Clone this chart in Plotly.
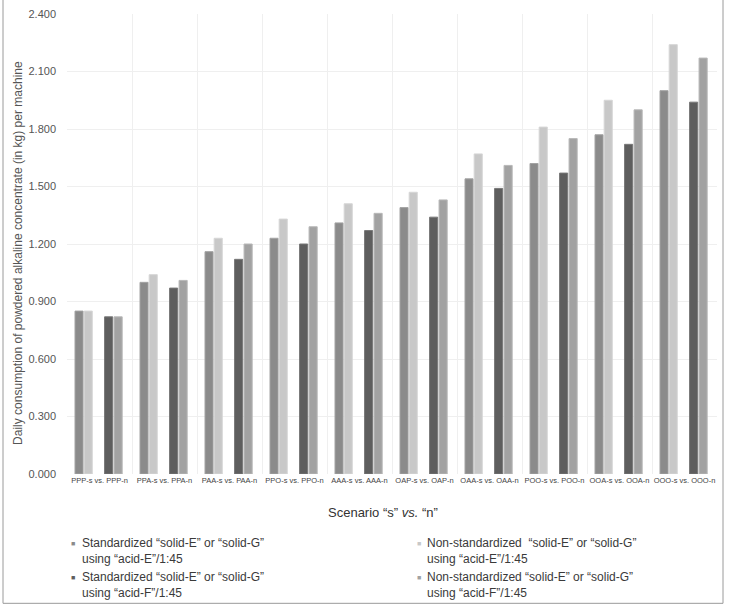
import plotly.graph_objects as go

categories = ["PPP-s vs. PPP-n", "PPA-s vs. PPA-n", "PAA-s vs. PAA-n", "PPO-s vs. PPO-n",
              "AAA-s vs. AAA-n", "OAP-s vs. OAP-n", "OAA-s vs. OAA-n", "POO-s vs. POO-n",
              "OOA-s vs. OOA-n", "OOO-s vs. OOO-n"]

std_acidE = [0.85, 1.00, 1.16, 1.23, 1.31, 1.39, 1.54, 1.62, 1.77, 2.00]
nonstd_acidE = [0.85, 1.04, 1.23, 1.33, 1.41, 1.47, 1.67, 1.81, 1.95, 2.24]
std_acidF = [0.82, 0.97, 1.12, 1.20, 1.27, 1.34, 1.49, 1.57, 1.72, 1.94]
nonstd_acidF = [0.82, 1.01, 1.20, 1.29, 1.36, 1.43, 1.61, 1.75, 1.90, 2.17]

series_names = [
    ["Standardized \u201csolid-E\u201d or \u201csolid-G\u201d", "using \u201cacid-E\u201d/1:45"],
    ["Non-standardized  \u201csolid-E\u201d or \u201csolid-G\u201d", "using \u201cacid-E\u201d/1:45"],
    ["Standardized \u201csolid-E\u201d or \u201csolid-G\u201d", "using \u201cacid-F\u201d/1:45"],
    ["Non-standardized \u201csolid-E\u201d or \u201csolid-G\u201d", "using \u201cacid-F\u201d/1:45"],
]
y_ticks = [0.0, 0.3, 0.6, 0.9, 1.2, 1.5, 1.8, 2.1, 2.4]

W, H = 740, 610
ML, MR, MT, MB = 67, 23, 8, 136
PW, PH = W - ML - MR, H - MT - MB


def px(x):
    return (x - ML) / PW


def py(y):
    return (H - MB - y) / PH


fills = ["#8b8b8b", "#c8c8c8", "#5e5e5e", "#a2a2a2"]
edges = ["#a3a3a3", "#d6d6d6", "#777777", "#b8b8b8"]
offsets = [-0.377, -0.236, 0.078, 0.224]
bar_w = 0.125
all_series = [std_acidE, nonstd_acidE, std_acidF, nonstd_acidF]

fig = go.Figure()
for vals, name, fc, ec, off in zip(all_series, series_names, fills, edges, offsets):
    fig.add_trace(go.Bar(
        x=categories, y=vals, name=" ".join(name),
        marker=dict(color=fc, line=dict(color=ec, width=1)),
        offset=off, width=bar_w, showlegend=False,
    ))

font = "Liberation Sans, Arial, sans-serif"

annotations = []
# y-axis title
annotations.append(dict(
    text="Daily consumption of powdered alkaline concentrate (in kg) per machine",
    x=px(18), y=py(250), xref="paper", yref="paper", textangle=-90,
    showarrow=False, xanchor="center", yanchor="middle",
    font=dict(family=font, size=12, color="#555555")))
# x-axis title
annotations.append(dict(
    text="Scenario \u201cs\u201d <i>vs.</i> \u201cn\u201d",
    x=px(383), y=py(513), xref="paper", yref="paper", showarrow=False,
    xanchor="center", yanchor="middle",
    font=dict(family=font, size=13, color="#333333")))

# legend built from text: (square x, text x, entry centre y)
leg_pos = [(73, 80, 552), (419, 425, 552), (73, 80, 586), (419, 425, 586)]
for (sqx, tx, cy), name, fc in zip(leg_pos, series_names, fills):
    annotations.append(dict(
        text="\u25a0", x=px(sqx), y=py(cy - 7.5), xref="paper", yref="paper",
        showarrow=False, xanchor="center", yanchor="middle",
        font=dict(family=font, size=7, color=fc)))
    annotations.append(dict(
        text="<br>".join(name), x=px(tx), y=py(cy), xref="paper", yref="paper",
        showarrow=False, xanchor="left", yanchor="middle", align="left",
        font=dict(family=font, size=12, color="#3a3a3a")))

fig.update_layout(
    width=W, height=H,
    margin=dict(l=ML, r=MR, t=MT, b=MB),
    plot_bgcolor="white", paper_bgcolor="white",
    barmode="overlay", showlegend=False,
    annotations=annotations,
    shapes=[dict(type="rect", xref="paper", yref="paper",
                 x0=px(3), x1=px(723), y0=py(605), y1=py(-20),
                 line=dict(color="#9a9a9a", width=1), fillcolor="rgba(0,0,0,0)")],
    xaxis=dict(type="category", tickson="boundaries", showgrid=True,
               gridcolor="#efefef", gridwidth=1, ticks="", showline=False,
               zeroline=False,
               tickfont=dict(family=font, size=7.5, color="#444444"),
               tickangle=0),
    yaxis=dict(range=[0, 2.4], tickvals=y_ticks, tickformat=".3f",
               showgrid=True, gridcolor="#efefef", gridwidth=1, zeroline=False,
               showline=False, ticks="", ticklabelstandoff=10,
               tickfont=dict(family=font, size=11, color="#555555")),
)

fig.write_html("out.html")
